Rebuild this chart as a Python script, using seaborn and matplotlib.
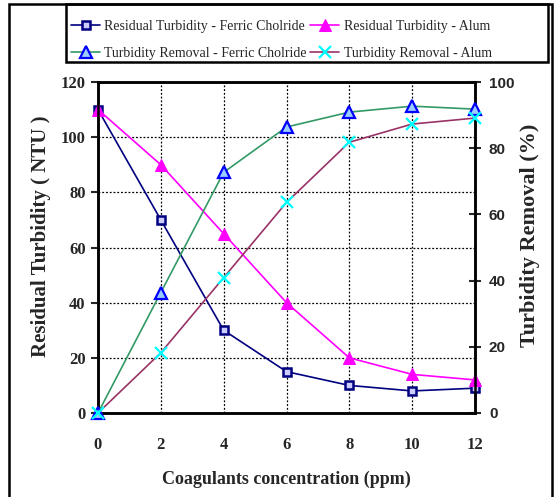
import matplotlib
matplotlib.use("Agg")
import matplotlib.pyplot as plt
import seaborn as sns
from matplotlib.patches import Rectangle

# data
conc = [0, 2, 4, 6, 8, 10, 12]
res_ferric = [110, 70, 30, 15, 10, 8, 9]
res_alum = [110, 90, 65, 40, 20, 14, 12]
rem_ferric = [0, 36.4, 72.7, 86.4, 90.9, 92.7, 91.8]
rem_alum = [0, 18.2, 40.9, 63.6, 81.8, 87.3, 89.1]

sns.set_style("white")
plt.rcParams['font.family'] = ['Liberation Serif', 'DejaVu Serif']

fig = plt.figure(figsize=(5.55, 4.97), dpi=100)
ax = fig.add_axes([98/555, 1-413/497, (475-98)/555, (413-82)/497])
ax2 = ax.twinx()

# residual turbidity (left axis)
sns.lineplot(x=conc, y=res_ferric, ax=ax, color='#000080', lw=1.2, marker='s',
             markersize=6, markerfacecolor='#ccccff', markeredgecolor='#000080',
             markeredgewidth=1.8, label='Residual Turbidity - Ferric Cholride',
             legend=False, clip_on=False, zorder=5)
sns.lineplot(x=conc, y=res_alum, ax=ax, color='#ff00ff', lw=1.2, marker='^',
             markersize=8, markerfacecolor='#ff00ff', markeredgecolor='#ff00ff',
             label='Residual Turbidity - Alum', legend=False, clip_on=False, zorder=5)

# turbidity removal (right axis)
sns.lineplot(x=conc, y=rem_ferric, ax=ax2, color='#339966', lw=1.2, marker='^',
             markersize=9, markerfacecolor='#99ccff', markeredgecolor='#0000ff',
             markeredgewidth=1.6, label='Turbidity Removal - Ferric Cholride',
             legend=False, clip_on=False, zorder=5)
sns.lineplot(x=conc, y=rem_alum, ax=ax2, color='#993366', lw=1.2, marker='x',
             markersize=9, markeredgecolor='#00ffff', markeredgewidth=1.6,
             label='Turbidity Removal - Alum', legend=False, clip_on=False, zorder=5)

ax.set_xlim(0, 12)
ax.set_ylim(0, 120)
ax2.set_ylim(0, 100)
ax.set_xticks(conc)
ax.set_yticks(range(0, 121, 20))
ax2.set_yticks(range(0, 101, 20))

ax.grid(True, color='black', linestyle=(0, (1.5, 1.5)), lw=0.9)
ax2.grid(False)
for a in (ax, ax2):
    for s in a.spines.values():
        s.set_linewidth(1.8)
        s.set_color('black')

ax.tick_params(axis='y', direction='out', length=5, width=1.5, pad=4,
               labelsize=12)
ax.tick_params(axis='x', direction='inout', length=8, width=1.5, pad=13,
               labelsize=12)
ax2.tick_params(axis='y', direction='inout', length=8, width=1.5, pad=6,
                labelsize=11)
for t in ax.get_xticklabels() + ax.get_yticklabels():
    t.set_fontweight('bold')
for t in ax2.get_yticklabels():
    t.set_fontweight('bold')
    t.set_family('Liberation Sans')

ax.set_xlabel('Coagulants concentration (ppm)', fontsize=13, fontweight='bold',
              labelpad=13)
ax.set_ylabel('Residual Turbidity ( NTU )', fontsize=15, fontweight='bold',
              labelpad=7)
ax2.set_ylabel('Turbidity Removal (%)', fontsize=16, fontweight='bold',
               labelpad=4)
ax.yaxis.label.set_y(0.535)
ax2.yaxis.label.set_y(0.538)

# legend across the top
h1, l1 = ax.get_legend_handles_labels()
h2, l2 = ax2.get_legend_handles_labels()
handles = [h1[0], h2[0], h1[1], h2[1]]
labels = [l1[0], l2[0], l1[1], l2[1]]
leg = fig.legend(handles, labels, ncol=2, loc='upper left',
                 bbox_to_anchor=(64/555, 1-13/497),
                 fontsize=10, frameon=False, borderpad=0.5,
                 handlelength=2.1, handletextpad=0.3, columnspacing=0.25,
                 labelspacing=1.0, borderaxespad=0)

# legend box and outer frame of the figure
fig.patches.append(Rectangle((66/555, 1-62/497), (548-66)/555, 58/497,
                             transform=fig.transFigure, fill=False,
                             edgecolor='black', lw=1.8))
fig.patches.append(Rectangle((9/555, -0.05), (552-9)/555, 1.05-4/497,
                             transform=fig.transFigure, fill=False,
                             edgecolor='black', lw=1.8))

fig.savefig('out.png', dpi=100)
